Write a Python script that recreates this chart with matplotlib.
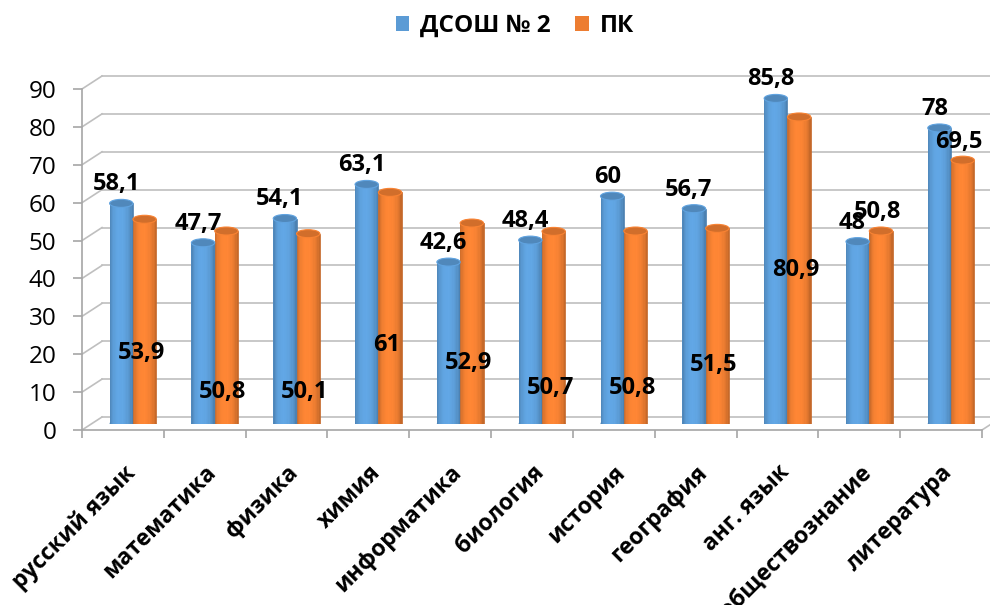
import numpy as np
import matplotlib
matplotlib.use("Agg")
import matplotlib.pyplot as plt
from matplotlib.patches import Ellipse
from matplotlib.colors import to_rgb

plt.rcParams['font.family'] = ['Open Sans', 'DejaVu Sans']

# data
subjects = ["русский язык", "математика", "физика", "химия", "информатика", "биология",
            "история", "география", "анг. язык", "обществознание", "литература"]
dsosh = [58.1, 47.7, 54.1, 63.1, 42.6, 48.4, 60, 56.7, 85.8, 48, 78]
pk = [53.9, 50.8, 50.1, 61, 52.9, 50.7, 50.8, 51.5, 80.9, 50.8, 69.5]
series_names = ["ДСОШ № 2", "ПК"]
# heights where excel put the ПК labels (they float inside the bars)
pk_label_y = [18.7, 8.4, 8.4, 20.7, 15.9, 9.3, 9.3, 15.4, 40.5, 55.9, 74.4]
yticks = list(range(0, 100, 10))

BLUE = "#5B9BD5"
ORANGE = "#ED7D31"
GRID = "#BFBFBF"

W, H = 990, 605
fig = plt.figure(figsize=(W / 100, H / 100), dpi=100)

# pseudo 3d: front plane, mid plane (bars) and back wall, shifted in pixels
def px_axes(left, bottom_from_top, zorder):
    a = fig.add_axes([left / W, (H - bottom_from_top) / H, 900 / W, 341 / H], zorder=zorder)
    a.set_xlim(0, len(subjects))
    a.set_ylim(0, 90)
    a.patch.set_visible(False)
    return a

ax_back = px_axes(102, 417, 0)
ax_front = px_axes(82, 430, 1)
ax = px_axes(92, 423.5, 2)
ax_back.axis("off")
ax.axis("off")

n = len(subjects)
# back wall gridlines + back floor line
for v in yticks:
    ax_back.plot([0, n + 0.5], [v, v], color=GRID, lw=1.2, clip_on=False)

# side wall diagonals / floor edges on front axes
dx, dy = 20 / (900 / n), 13 / (341 / 90)
for v in yticks:
    ax_front.plot([0, dx], [v, v + dy], color=GRID, lw=1.2, clip_on=False)
ax_front.plot([n, n + dx], [0, dy], color=GRID, lw=1.2, clip_on=False)

for s in ["top", "right"]:
    ax_front.spines[s].set_visible(False)
for s in ["left", "bottom"]:
    ax_front.spines[s].set_color("#A6A6A6")
    ax_front.spines[s].set_linewidth(1.2)
ax_front.set_yticks(yticks)
ax_front.tick_params(axis="y", length=6.5, width=1.2, color="#A6A6A6", pad=12, labelsize=17.5)
ax_front.set_xticks(np.arange(n + 1), [""] * (n + 1))
ax_front.tick_params(axis="x", length=6, width=1.2, color="#A6A6A6")

centers = np.arange(n) + 0.5
for c, lab in zip(centers, subjects):
    ax_front.annotate(lab, (c, 0), xytext=(0, -22), textcoords="offset points",
                      rotation=45, rotation_mode="anchor", ha="right", va="top",
                      fontsize=16.5, fontweight="bold", annotation_clip=False)

# cylinders
bw = 0.285
nstrip = 18

def cylinder(xs, vals, color, label):
    base = np.array(to_rgb(color))
    bars = ax.bar(xs, vals, width=bw, color=color, linewidth=0, label=label, zorder=2)
    for k in range(nstrip):
        u = (k + 0.5) / nstrip
        f = 0.74 + 0.34 * np.sqrt(np.sin(np.pi * u ** 0.85))
        col = np.clip(base * f, 0, 1)
        ax.bar(xs - bw / 2 + (k + 0.5) * bw / nstrip, vals, width=bw / nstrip,
               color=col, edgecolor=col, linewidth=0.5, zorder=3)
    eh = 8 / (341 / 90)
    for x, v in zip(xs, vals):
        ax.add_patch(Ellipse((x, 0), bw, eh, color=np.clip(base * 0.85, 0, 1), zorder=2, lw=0))
        ax.add_patch(Ellipse((x, v), bw, eh, facecolor=np.clip(base * 0.88, 0, 1),
                             edgecolor=np.clip(base * 1.05, 0, 1), lw=0.8, zorder=4))
    return bars

xb = centers - bw / 2
xo = centers + bw / 2
b1 = cylinder(xb, dsosh, BLUE, series_names[0])
b2 = cylinder(xo, pk, ORANGE, series_names[1])

def fmt(v):
    return f"{v:g}".replace(".", ",")

for x, v in zip(xb, dsosh):
    ax.annotate(fmt(v), (x, v), xytext=(-3.6, 13.7), textcoords="offset points",
                ha="center", va="center", fontsize=17, fontweight="bold", zorder=6)
for x, v, ly in zip(xo, pk, pk_label_y):
    ax.annotate(fmt(v), (x, ly), xytext=(-2.5, 0), textcoords="offset points",
                ha="center", va="center", fontsize=17, fontweight="bold", zorder=6)

fig.legend(handles=[b1, b2], loc="center", bbox_to_anchor=(515 / W, 1 - 26 / H), ncol=2,
           frameon=False, handlelength=0.55, handleheight=0.55, handletextpad=0.45,
           columnspacing=1.0, prop={"size": 17.5, "weight": "bold"})

fig.savefig("out.png", dpi=100, facecolor="white")
